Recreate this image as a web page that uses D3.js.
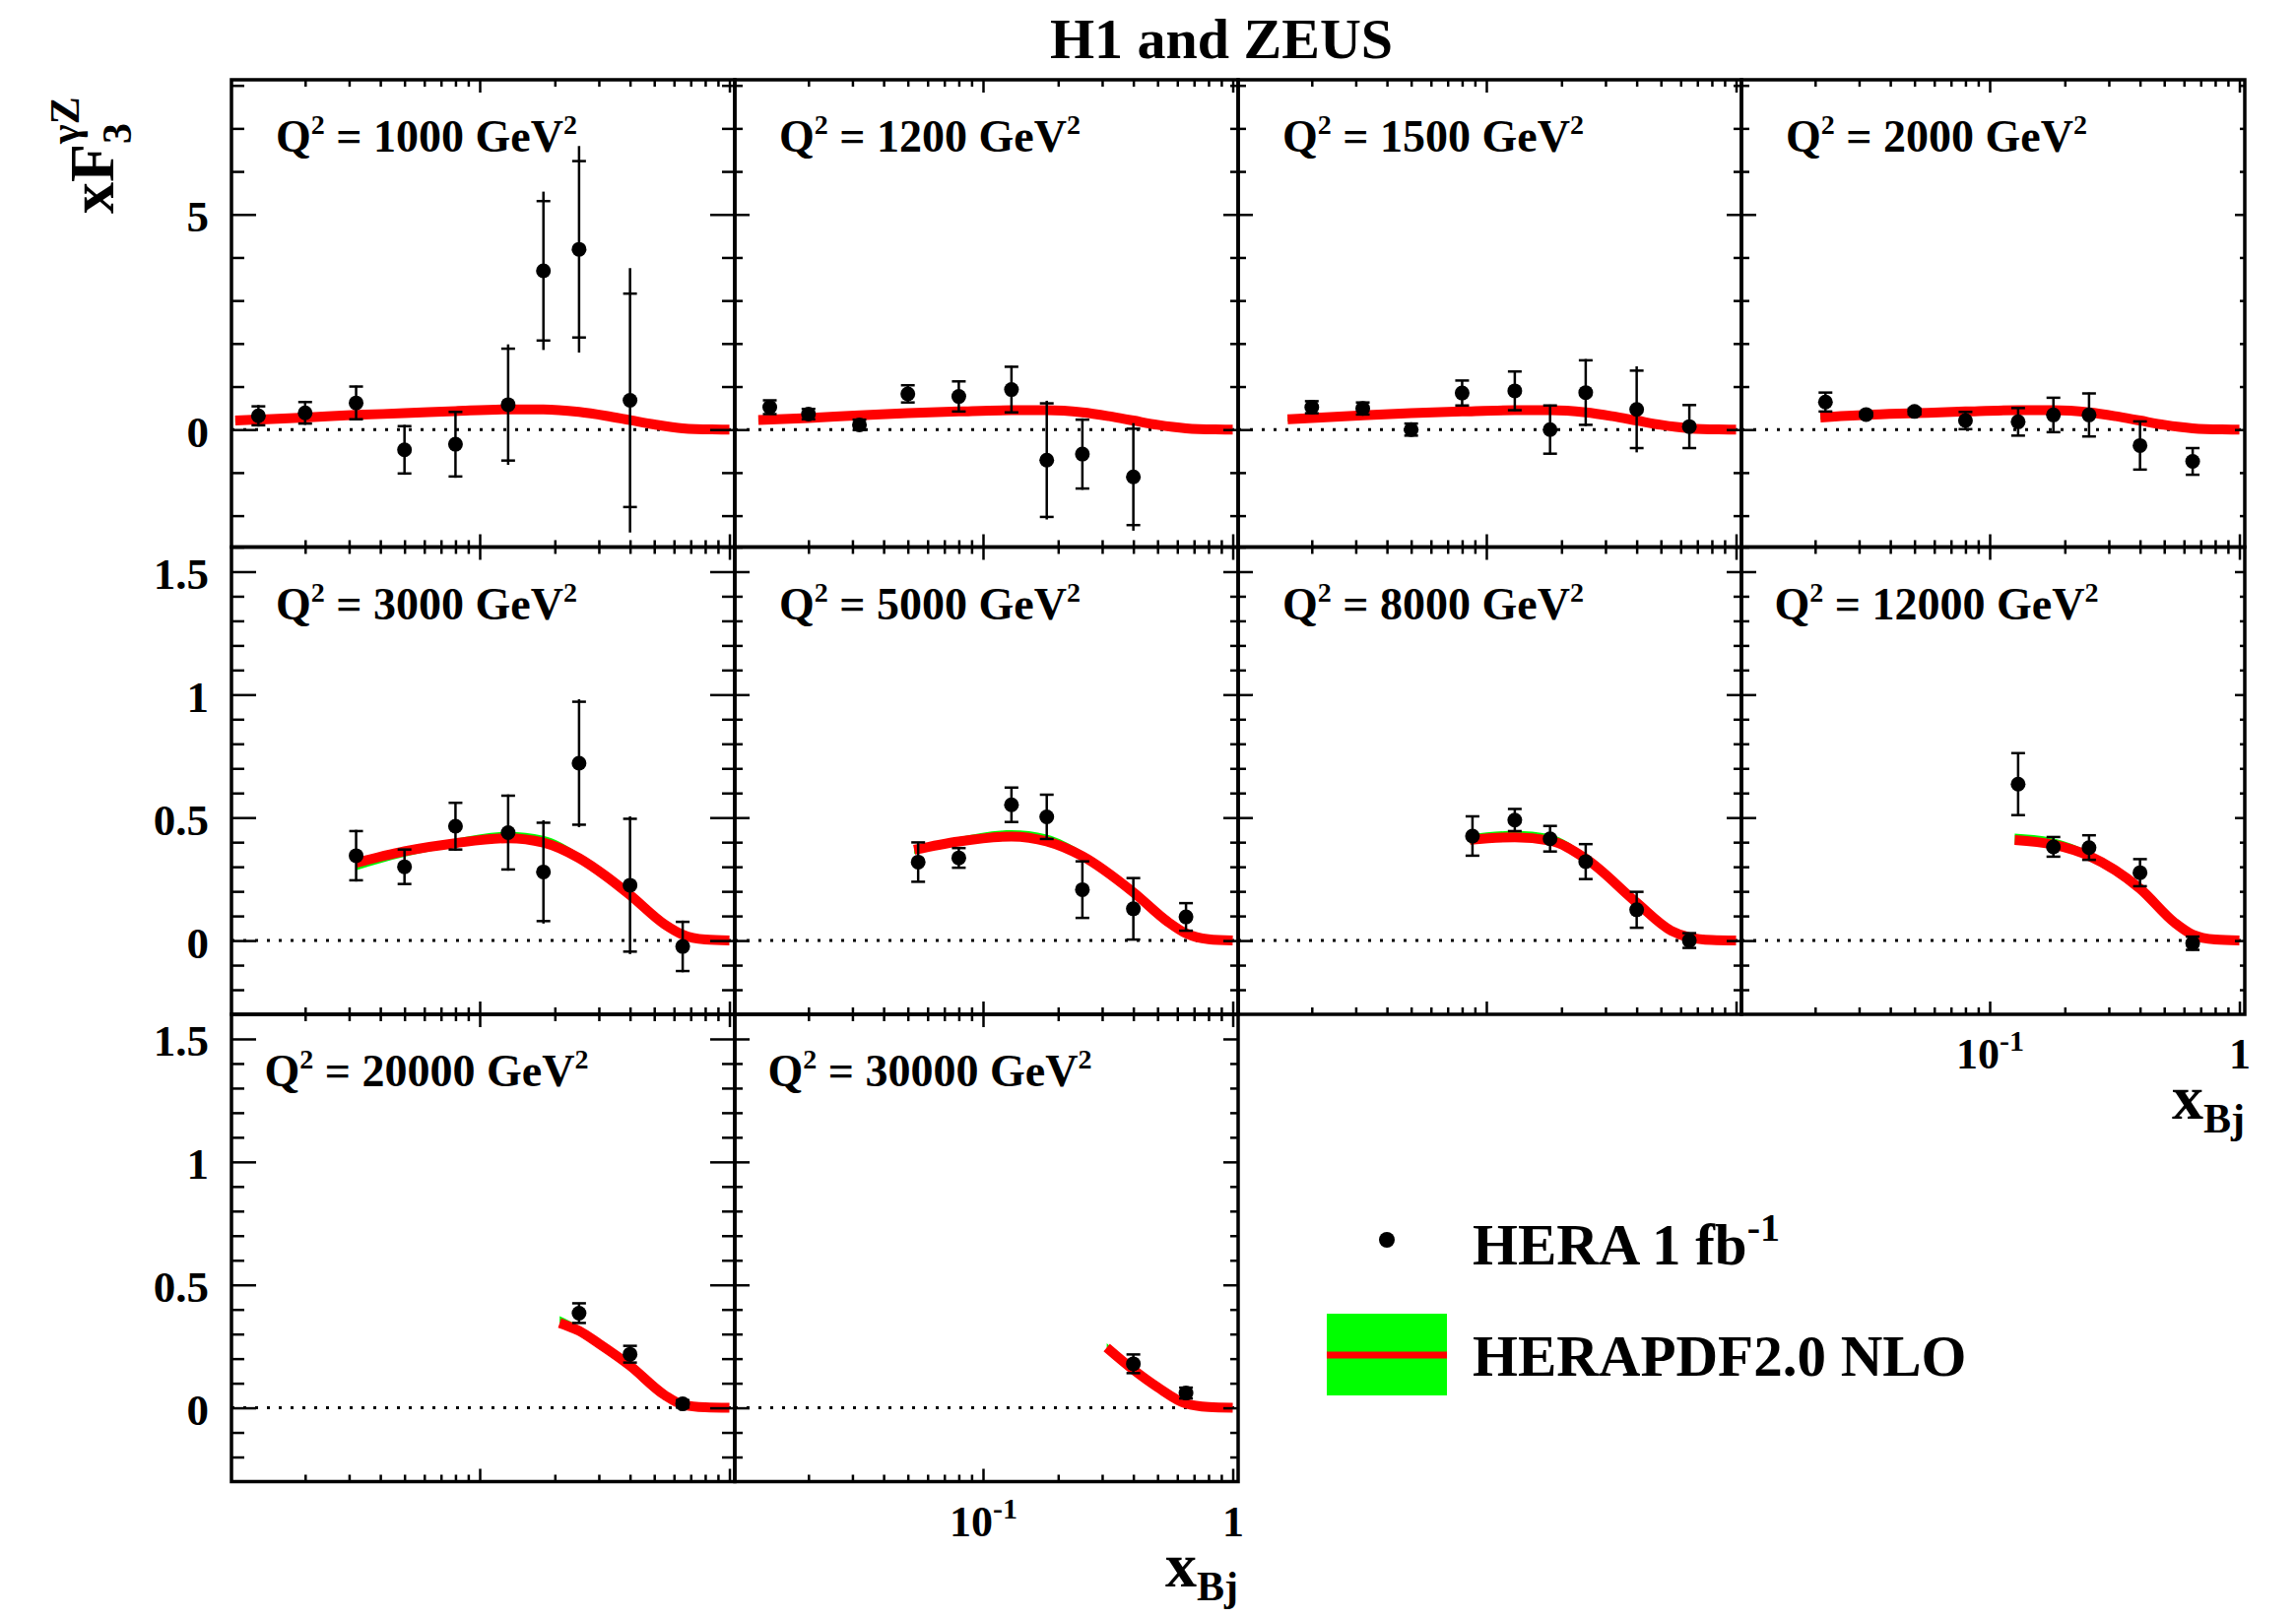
<!DOCTYPE html>
<html>
<head>
<meta charset="utf-8">
<script src="https://cdn.jsdelivr.net/npm/d3@7"></script>
<style>
  body { margin: 0; background: #fff; }
  text { font-family: "Liberation Serif", "Times New Roman", serif; font-weight: bold; fill: #000; }
</style>
</head>
<body>
<div id="chart"></div>
<script>
// Q2 value of each panel (GeV^2)
var q2Values = ["1000", "1200", "1500", "2000", "3000", "5000", "8000", "12000", "20000", "30000"];

// HERA data points, one list per panel
var dataX = [
  [0.013, 0.02, 0.032, 0.05, 0.08, 0.13, 0.18, 0.25, 0.4],
  [0.014, 0.02, 0.032, 0.05, 0.08, 0.13, 0.18, 0.25, 0.4],
  [0.02, 0.032, 0.05, 0.08, 0.13, 0.18, 0.25, 0.4, 0.65],
  [0.022, 0.032, 0.05, 0.08, 0.13, 0.18, 0.25, 0.4, 0.65],
  [0.032, 0.05, 0.08, 0.13, 0.18, 0.25, 0.4, 0.65],
  [0.055, 0.08, 0.13, 0.18, 0.25, 0.4, 0.65],
  [0.088, 0.13, 0.18, 0.25, 0.4, 0.65],
  [0.13, 0.18, 0.25, 0.4, 0.65],
  [0.25, 0.4, 0.65],
  [0.4, 0.65]
];
var dataY = [
  [0.32, 0.39, 0.62, -0.47, -0.34, 0.58, 3.69, 4.19, 0.68],
  [0.52, 0.36, 0.11, 0.83, 0.77, 0.93, -0.71, -0.57, -1.10],
  [0.52, 0.49, 0.0, 0.85, 0.90, 0.0, 0.86, 0.47, 0.07],
  [0.64, 0.35, 0.42, 0.21, 0.18, 0.34, 0.34, -0.37, -0.74],
  [0.345, 0.30, 0.465, 0.439, 0.279, 0.721, 0.225, -0.024],
  [0.319, 0.336, 0.552, 0.503, 0.207, 0.129, 0.096],
  [0.425, 0.490, 0.414, 0.321, 0.125, 0.0],
  [0.636, 0.381, 0.378, 0.276, -0.011],
  [0.385, 0.218, 0.016],
  [0.179, 0.060]
];
var statErr = [
  [0.22, 0.25, 0.38, 0.55, 0.75, 1.30, 1.62, 2.05, 2.48],
  [0.16, 0.12, 0.12, 0.20, 0.35, 0.53, 1.32, 0.80, 1.12],
  [0.14, 0.14, 0.14, 0.29, 0.45, 0.56, 0.75, 0.90, 0.50],
  [0.22, 0.05, 0.07, 0.20, 0.32, 0.40, 0.50, 0.56, 0.31],
  [0.10, 0.07, 0.095, 0.15, 0.20, 0.25, 0.27, 0.10],
  [0.08, 0.04, 0.07, 0.09, 0.115, 0.125, 0.056],
  [0.08, 0.045, 0.052, 0.071, 0.073, 0.03],
  [0.126, 0.04, 0.05, 0.055, 0.027],
  [0.04, 0.034, 0.015],
  [0.038, 0.022]
];
var totErr = [
  [0.25, 0.28, 0.40, 0.58, 0.78, 1.40, 1.84, 2.40, 3.07],
  [0.17, 0.13, 0.13, 0.21, 0.37, 0.55, 1.38, 0.83, 1.25],
  [0.15, 0.15, 0.15, 0.30, 0.47, 0.58, 0.78, 1.00, 0.52],
  [0.23, 0.06, 0.08, 0.21, 0.33, 0.42, 0.52, 0.58, 0.32],
  [0.105, 0.073, 0.10, 0.155, 0.21, 0.26, 0.28, 0.105],
  [0.082, 0.042, 0.072, 0.092, 0.118, 0.128, 0.058],
  [0.082, 0.047, 0.054, 0.073, 0.075, 0.032],
  [0.128, 0.042, 0.052, 0.057, 0.028],
  [0.042, 0.035, 0.016],
  [0.039, 0.023]
];

// HERAPDF2.0 NLO prediction (central line) and its band
var curveX = [
  [0.0105, 0.02, 0.032, 0.05, 0.08, 0.13, 0.18, 0.25, 0.32, 0.4, 0.5, 0.65, 0.85, 1.0],
  [0.0126, 0.02, 0.032, 0.05, 0.08, 0.13, 0.18, 0.25, 0.32, 0.4, 0.5, 0.65, 0.85, 1.0],
  [0.016, 0.02, 0.032, 0.05, 0.08, 0.13, 0.18, 0.25, 0.32, 0.4, 0.5, 0.65, 0.85, 1.0],
  [0.021, 0.032, 0.05, 0.08, 0.13, 0.18, 0.25, 0.32, 0.4, 0.5, 0.65, 0.85, 1.0],
  [0.032, 0.05, 0.08, 0.13, 0.18, 0.25, 0.32, 0.4, 0.55, 0.65, 0.8, 1.0],
  [0.053, 0.08, 0.13, 0.18, 0.25, 0.4, 0.55, 0.65, 0.8, 1.0],
  [0.086, 0.13, 0.18, 0.25, 0.4, 0.55, 0.65, 0.8, 1.0],
  [0.126, 0.18, 0.25, 0.4, 0.55, 0.65, 0.8, 1.0],
  [0.209, 0.25, 0.3, 0.4, 0.55, 0.65, 0.8, 1.0],
  [0.313, 0.4, 0.5, 0.65, 0.8, 1.0]
];
var curveY = [
  [0.21, 0.28, 0.34, 0.38, 0.43, 0.47, 0.47, 0.41, 0.32, 0.22, 0.12, 0.03, 0.003, 0],
  [0.22, 0.27, 0.33, 0.38, 0.42, 0.45, 0.45, 0.40, 0.31, 0.21, 0.11, 0.03, 0.003, 0],
  [0.24, 0.27, 0.33, 0.38, 0.42, 0.45, 0.45, 0.40, 0.31, 0.21, 0.11, 0.03, 0.003, 0],
  [0.28, 0.34, 0.38, 0.42, 0.45, 0.45, 0.40, 0.31, 0.21, 0.11, 0.03, 0.003, 0],
  [0.316, 0.363, 0.396, 0.416, 0.398, 0.335, 0.262, 0.185, 0.066, 0.024, 0.004, 0],
  [0.369, 0.403, 0.423, 0.403, 0.343, 0.196, 0.076, 0.029, 0.005, 0],
  [0.41, 0.42, 0.406, 0.333, 0.154, 0.04, 0.013, 0.002, 0],
  [0.409, 0.39, 0.344, 0.211, 0.073, 0.024, 0.004, 0],
  [0.345, 0.313, 0.261, 0.171, 0.052, 0.013, 0.002, 0],
  [0.245, 0.155, 0.084, 0.017, 0.003, 0]
];
var bandUp = [
  [0.05, 0.05, 0.05, 0.05, 0.05, 0.05, 0.05, 0.05, 0.04, 0.03, 0.02, 0.01, 0.005, 0],
  [0.05, 0.05, 0.05, 0.05, 0.05, 0.05, 0.05, 0.05, 0.04, 0.03, 0.02, 0.01, 0.005, 0],
  [0.05, 0.05, 0.05, 0.05, 0.05, 0.05, 0.05, 0.05, 0.04, 0.03, 0.02, 0.01, 0.005, 0],
  [0.05, 0.05, 0.05, 0.05, 0.05, 0.05, 0.05, 0.04, 0.03, 0.02, 0.01, 0.005, 0],
  [0.012, 0.014, 0.018, 0.026, 0.028, 0.02, 0.016, 0.012, 0.008, 0.005, 0.002, 0],
  [0.014, 0.018, 0.026, 0.028, 0.02, 0.012, 0.008, 0.005, 0.002, 0],
  [0.022, 0.026, 0.026, 0.018, 0.012, 0.008, 0.005, 0.002, 0],
  [0.026, 0.026, 0.018, 0.012, 0.008, 0.005, 0.002, 0],
  [0.028, 0.02, 0.016, 0.012, 0.008, 0.005, 0.002, 0],
  [0.018, 0.012, 0.008, 0.005, 0.002, 0]
];
var bandDn = [
  [0.05, 0.05, 0.05, 0.05, 0.05, 0.05, 0.05, 0.05, 0.04, 0.03, 0.02, 0.01, 0.005, 0],
  [0.05, 0.05, 0.05, 0.05, 0.05, 0.05, 0.05, 0.05, 0.04, 0.03, 0.02, 0.01, 0.005, 0],
  [0.05, 0.05, 0.05, 0.05, 0.05, 0.05, 0.05, 0.05, 0.04, 0.03, 0.02, 0.01, 0.005, 0],
  [0.05, 0.05, 0.05, 0.05, 0.05, 0.05, 0.05, 0.04, 0.03, 0.02, 0.01, 0.005, 0],
  [0.03, 0.022, 0.016, 0.014, 0.014, 0.014, 0.012, 0.01, 0.008, 0.005, 0.002, 0],
  [0.016, 0.014, 0.014, 0.014, 0.014, 0.01, 0.008, 0.005, 0.002, 0],
  [0.016, 0.014, 0.014, 0.014, 0.01, 0.008, 0.005, 0.002, 0],
  [0.016, 0.014, 0.014, 0.01, 0.008, 0.005, 0.002, 0],
  [0.016, 0.014, 0.014, 0.01, 0.008, 0.005, 0.002, 0],
  [0.016, 0.01, 0.008, 0.005, 0.002, 0]
];

// axis ticks and labels
var xMajor = [0.1, 1];
var xMinor = [0.02, 0.03, 0.04, 0.05, 0.06, 0.07, 0.08, 0.09, 0.2, 0.3, 0.4, 0.5, 0.6, 0.7, 0.8, 0.9];
var yMajorTop = [0, 5];
var yLabelsTop = ["0", "5"];
var yMinorTop = [-2, -1, 1, 2, 3, 4, 6, 7, 8];
var yMajorLow = [0, 0.5, 1, 1.5];
var yLabelsLow = ["0", "0.5", "1", "1.5"];
var yMinorLow = [-0.2, -0.1, 0.1, 0.2, 0.3, 0.4, 0.6, 0.7, 0.8, 0.9, 1.1, 1.2, 1.3, 1.4, 1.6];
var xLabelPanels = [7, 9];

// layout
var width = 2331, height = 1642;
var colLeft = [235, 746, 1257, 1768];
var rowTop = [81, 555.5, 1030];
var pw = 511, ph = 474.5;
var xDomain = [0.01014, 1.051];
var yDomains = [[-2.73, 8.13], [-0.3, 1.6], [-0.3, 1.6]];
var yTickL = [[25, 13], [15, 8], [15, 8], [15, 8]];
var yTickR = [[25, 13], [15, 8], [15, 8], [10, 5]];

var svg = d3.select("#chart").append("svg")
    .attr("width", width)
    .attr("height", height)
    .style("background", "#fff");

function drawTicks(g, axisFn, scale, majors, minors, majLen, minLen) {
  [[minors, minLen], [majors, majLen]].forEach(function(t) {
    var a = g.append("g").call(axisFn(scale).tickValues(t[0]).tickSize(t[1]).tickFormat(""));
    a.select(".domain").remove();
    a.selectAll("line").attr("stroke", "#000").attr("stroke-width", 2.5);
  });
}

q2Values.forEach(function(q2, i) {
  var row = i < 4 ? 0 : (i < 8 ? 1 : 2);
  var col = i % 4;
  var g = svg.append("g")
      .attr("transform", "translate(" + colLeft[col] + "," + rowTop[row] + ")");

  var x = d3.scaleLog().domain(xDomain).range([0, pw]);
  var y = d3.scaleLinear().domain(yDomains[row]).range([ph, 0]);

  // dotted zero line
  g.append("line")
    .attr("x1", 0).attr("x2", pw)
    .attr("y1", y(0)).attr("y2", y(0))
    .attr("stroke", "#000")
    .attr("stroke-width", 3)
    .attr("stroke-dasharray", "3,9");

  // prediction band and line
  var pts = curveX[i].map(function(cx, k) {
    return {x: cx, y: curveY[i][k], up: bandUp[i][k], dn: bandDn[i][k]};
  });
  g.append("path")
    .datum(pts)
    .attr("fill", "#00ff00")
    .attr("d", d3.area()
      .x(function(d) { return x(d.x); })
      .y0(function(d) { return y(d.y - d.dn); })
      .y1(function(d) { return y(d.y + d.up); })
      .curve(d3.curveMonotoneX));
  g.append("path")
    .datum(pts)
    .attr("fill", "none")
    .attr("stroke", "#ff0000")
    .attr("stroke-width", 10)
    .attr("d", d3.line()
      .x(function(d) { return x(d.x); })
      .y(function(d) { return y(d.y); })
      .curve(d3.curveMonotoneX));

  // data points with error bars
  var pdata = dataX[i].map(function(px, k) {
    return {x: px, y: dataY[i][k], s: statErr[i][k], t: totErr[i][k]};
  });
  var pg = g.selectAll(".pt").data(pdata).enter().append("g").attr("class", "pt");
  pg.append("line")
    .attr("x1", function(d) { return x(d.x); })
    .attr("x2", function(d) { return x(d.x); })
    .attr("y1", function(d) { return y(d.y + d.t); })
    .attr("y2", function(d) { return y(d.y - d.t); })
    .attr("stroke", "#000").attr("stroke-width", 2.5);
  [1, -1].forEach(function(sgn) {
    pg.append("line")
      .attr("x1", function(d) { return x(d.x) - 7; })
      .attr("x2", function(d) { return x(d.x) + 7; })
      .attr("y1", function(d) { return y(d.y + sgn * d.s); })
      .attr("y2", function(d) { return y(d.y + sgn * d.s); })
      .attr("stroke", "#000").attr("stroke-width", 2.5);
  });
  pg.append("circle")
    .attr("cx", function(d) { return x(d.x); })
    .attr("cy", function(d) { return y(d.y); })
    .attr("r", 7.5)
    .attr("fill", "#000");

  // ticks on all four sides, pointing inward
  var yMaj = row === 0 ? yMajorTop : yMajorLow;
  var yLab = row === 0 ? yLabelsTop : yLabelsLow;
  var yMin = row === 0 ? yMinorTop : yMinorLow;
  drawTicks(g.append("g"), d3.axisRight, y, yMaj, yMin, yTickL[col][0], yTickL[col][1]);
  drawTicks(g.append("g").attr("transform", "translate(" + pw + ",0)"),
    d3.axisLeft, y, yMaj, yMin, yTickR[col][0], yTickR[col][1]);
  drawTicks(g.append("g"), d3.axisBottom, x, xMajor, xMinor, 13, 7);
  drawTicks(g.append("g").attr("transform", "translate(0," + ph + ")"),
    d3.axisTop, x, xMajor, xMinor, 13, 7);

  // frame
  g.append("rect")
    .attr("width", pw).attr("height", ph)
    .attr("fill", "none")
    .attr("stroke", "#000")
    .attr("stroke-width", 3.5);

  // y tick labels on the first column
  if (col === 0) {
    var ya = g.append("g").call(d3.axisLeft(y).tickValues(yMaj).tickSize(0).tickPadding(23)
      .tickFormat(function(d, k) { return yLab[k]; }));
    ya.select(".domain").remove();
    ya.attr("font-family", null).attr("font-size", null);
    ya.selectAll("text").attr("dy", 17).style("font-size", "45px");
  }

  // x tick labels and title under selected panels
  if (xLabelPanels.indexOf(i) >= 0) {
    var xa = g.append("g").attr("transform", "translate(0," + ph + ")")
      .call(d3.axisBottom(x).tickValues(xMajor).tickSize(0).tickPadding(0).tickFormat(""));
    xa.select(".domain").remove();
    xa.attr("font-family", null).attr("font-size", null);
    xa.selectAll("text").attr("y", 55).attr("dy", null).style("font-size", "44px")
      .each(function(d) {
        var t = d3.select(this);
        if (d === 1) {
          t.text("1");
        } else {
          t.append("tspan").text("10");
          t.append("tspan").attr("dy", -18).style("font-size", "30px").text("-1");
        }
      });
    var xt = g.append("text")
      .attr("x", pw)
      .attr("y", ph + 106)
      .attr("text-anchor", "end")
      .style("font-size", "64px");
    xt.append("tspan").text("x");
    xt.append("tspan").attr("dy", 14).style("font-size", "42px").text("Bj");
  }

  // panel label
  var lab = g.append("text")
    .attr("x", 198)
    .attr("y", 73)
    .attr("text-anchor", "middle")
    .style("font-size", "46px");
  lab.append("tspan").text("Q");
  lab.append("tspan").attr("dy", -18).style("font-size", "28px").text("2");
  lab.append("tspan").attr("dy", 18).text(" = " + q2 + " GeV");
  lab.append("tspan").attr("dy", -18).style("font-size", "28px").text("2");
});

// title
svg.append("text")
  .attr("x", 1240)
  .attr("y", 59)
  .attr("text-anchor", "middle")
  .style("font-size", "58px")
  .text("H1 and ZEUS");

// y axis title, rotated
var yt = svg.append("g").attr("transform", "translate(115,217) rotate(-90)");
yt.append("text").attr("x", 0).attr("y", 0).style("font-size", "64px").text("xF");
yt.append("text").attr("x", 71).attr("y", 18).style("font-size", "42px").text("3");
yt.append("text").attr("x", 71).attr("y", -35).style("font-size", "42px").text("\u03b3Z");

// legend
svg.append("circle").attr("cx", 1408).attr("cy", 1259).attr("r", 8).attr("fill", "#000");
var l1 = svg.append("text").attr("x", 1495).attr("y", 1284).style("font-size", "59px");
l1.append("tspan").text("HERA 1 fb");
l1.append("tspan").attr("dy", -24).style("font-size", "40px").text("-1");

svg.append("rect")
  .attr("x", 1347).attr("y", 1334)
  .attr("width", 122).attr("height", 83)
  .attr("fill", "#00ff00");
svg.append("line")
  .attr("x1", 1347).attr("x2", 1469)
  .attr("y1", 1376).attr("y2", 1376)
  .attr("stroke", "#ff0000")
  .attr("stroke-width", 7);
svg.append("text").attr("x", 1495).attr("y", 1397).style("font-size", "59px").text("HERAPDF2.0 NLO");
</script>
</body>
</html>
